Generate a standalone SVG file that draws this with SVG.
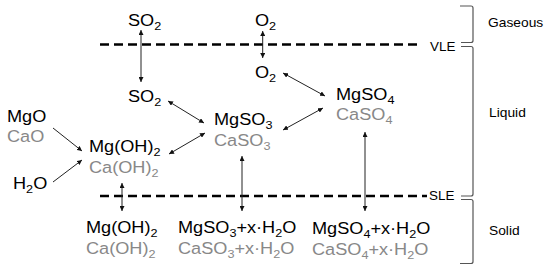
<svg xmlns="http://www.w3.org/2000/svg" width="550" height="273" viewBox="0 0 550 273">
<style>
text{font-family:"Liberation Sans",Arial,sans-serif;fill:#000}
.m{font-size:16.5px}
.g{fill:#888}
.s{font-size:11.5px}
.l{font-size:12px}
.c line{stroke:#222;stroke-width:1}
.d{stroke:#000;stroke-width:2.5;stroke-dasharray:9 5;fill:none}
.b{stroke:#555;stroke-width:1.2;fill:none}
</style>
<defs>
<marker id="ah" viewBox="0 0 10 10" refX="10" refY="5" markerWidth="5" markerHeight="5" orient="auto-start-reverse" markerUnits="userSpaceOnUse">
<path d="M0,0L10,5L0,10z" fill="#111"/>
</marker>
</defs>
<rect width="550" height="273" fill="#fff"/>
<g id="phase-lines">
<line class="d" x1="100" y1="44.5" x2="418" y2="44.5"/>
<line class="d" x1="100" y1="196" x2="427" y2="196"/>
<text class="l" transform="translate(430,50.5) scale(1.12,1)">VLE</text>
<text class="l" transform="translate(429,200) scale(1.12,1)">SLE</text>
</g>
<g id="brackets">
<path class="b" d="M460,6 H471 Q473,6 473,8 V40.5 Q473,42.5 471,42.5 H461"/>
<path class="b" d="M461,46.5 H471 Q473,46.5 473,48.5 V194 Q473,196 471,196 H461"/>
<path class="b" d="M461,199.5 H471 Q473,199.5 473,201.5 V261.5 Q473,263.5 471,263.5 H460"/>
<text class="l" transform="translate(488,27) scale(1.15,1)">Gaseous</text>
<text class="l" transform="translate(489,117) scale(1.15,1)">Liquid</text>
<text class="l" transform="translate(489,235) scale(1.15,1)">Solid</text>
</g>
<g id="so2-gas"><text class="m" transform="translate(128,26) scale(1.1,1)">SO<tspan class="s" dy="4">2</tspan></text></g>
<g id="o2-gas"><text class="m" transform="translate(255,26) scale(1.1,1)">O<tspan class="s" dy="4">2</tspan></text></g>
<g id="o2-liq"><text class="m" transform="translate(255,78) scale(1.1,1)">O<tspan class="s" dy="4">2</tspan></text></g>
<g id="so2-liq"><text class="m" transform="translate(128,102) scale(1.1,1)">SO<tspan class="s" dy="4">2</tspan></text></g>
<g id="mgo"><text class="m" transform="translate(7,122) scale(1.1,1)">MgO</text><text class="m g" transform="translate(7,142) scale(1.1,1)">CaO</text></g>
<g id="h2o"><text class="m" transform="translate(13,189) scale(1.1,1)">H<tspan class="s" dy="4">2</tspan><tspan dy="-4">O</tspan></text></g>
<g id="hydroxide-liq"><text class="m" transform="translate(89,152) scale(1.1,1)">Mg(OH)<tspan class="s" dy="4">2</tspan></text><text class="m g" transform="translate(89,173) scale(1.1,1)">Ca(OH)<tspan class="s" dy="4">2</tspan></text></g>
<g id="sulfite-liq"><text class="m" transform="translate(214,125) scale(1.1,1)">MgSO<tspan class="s" dy="4">3</tspan></text><text class="m g" transform="translate(214,146) scale(1.1,1)">CaSO<tspan class="s" dy="4">3</tspan></text></g>
<g id="sulfate-liq"><text class="m" transform="translate(336,100) scale(1.1,1)">MgSO<tspan class="s" dy="4">4</tspan></text><text class="m g" transform="translate(336,120) scale(1.1,1)">CaSO<tspan class="s" dy="4">4</tspan></text></g>
<g id="hydroxide-sol"><text class="m" transform="translate(86,233) scale(1.1,1)">Mg(OH)<tspan class="s" dy="4">2</tspan></text><text class="m g" transform="translate(86,254) scale(1.1,1)">Ca(OH)<tspan class="s" dy="4">2</tspan></text></g>
<g id="sulfite-sol"><text class="m" transform="translate(178,233) scale(1.1,1)">MgSO<tspan class="s" dy="4">3</tspan><tspan dy="-4">+x·H</tspan><tspan class="s" dy="4">2</tspan><tspan dy="-4">O</tspan></text><text class="m g" transform="translate(178,254) scale(1.1,1)">CaSO<tspan class="s" dy="4">3</tspan><tspan dy="-4">+x·H</tspan><tspan class="s" dy="4">2</tspan><tspan dy="-4">O</tspan></text></g>
<g id="sulfate-sol"><text class="m" transform="translate(312,234) scale(1.1,1)">MgSO<tspan class="s" dy="4">4</tspan><tspan dy="-4">+x·H</tspan><tspan class="s" dy="4">2</tspan><tspan dy="-4">O</tspan></text><text class="m g" transform="translate(312,255) scale(1.1,1)">CaSO<tspan class="s" dy="4">4</tspan><tspan dy="-4">+x·H</tspan><tspan class="s" dy="4">2</tspan><tspan dy="-4">O</tspan></text></g>
<g id="connectors" class="c">
<line x1="141" y1="30" x2="141" y2="82" marker-start="url(#ah)" marker-end="url(#ah)"/>
<line x1="262.7" y1="31" x2="262.7" y2="58" marker-start="url(#ah)" marker-end="url(#ah)"/>
<line x1="168" y1="101" x2="204" y2="123" marker-start="url(#ah)" marker-end="url(#ah)"/>
<line x1="169" y1="154" x2="205" y2="133" marker-start="url(#ah)" marker-end="url(#ah)"/>
<line x1="283" y1="73" x2="325" y2="96" marker-start="url(#ah)" marker-end="url(#ah)"/>
<line x1="283" y1="130" x2="323" y2="108" marker-start="url(#ah)" marker-end="url(#ah)"/>
<line x1="53" y1="128" x2="82" y2="151" marker-end="url(#ah)"/>
<line x1="53" y1="182" x2="82" y2="160" marker-end="url(#ah)"/>
<line x1="122" y1="183" x2="122" y2="211" marker-start="url(#ah)" marker-end="url(#ah)"/>
<line x1="242" y1="156" x2="242" y2="211" marker-start="url(#ah)" marker-end="url(#ah)"/>
<line x1="365" y1="132" x2="365" y2="211" marker-start="url(#ah)" marker-end="url(#ah)"/>
</g>
</svg>
